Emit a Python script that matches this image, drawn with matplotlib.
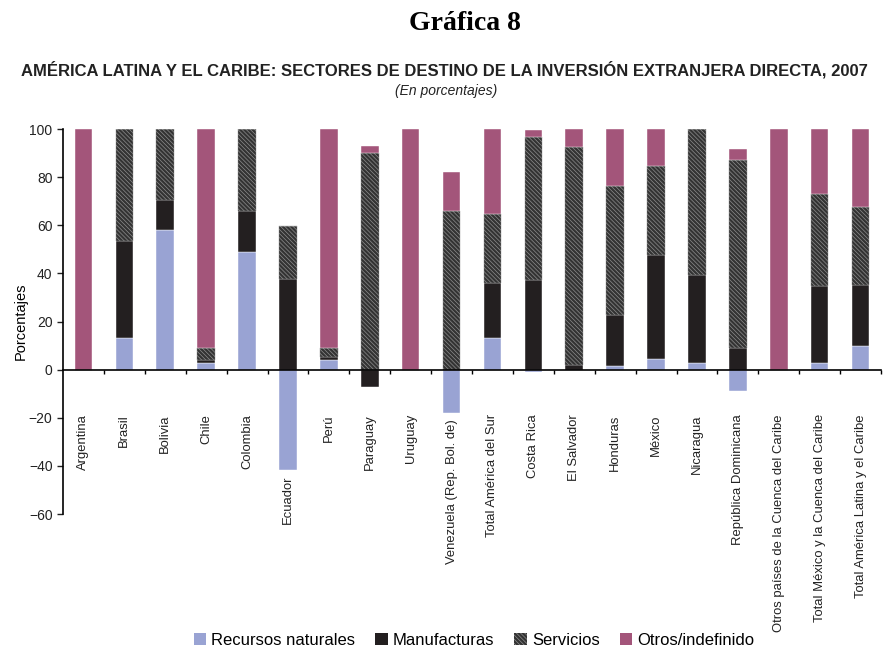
import numpy as np
import matplotlib
matplotlib.use('Agg')
import matplotlib.pyplot as plt
from matplotlib.patches import Patch

# Data (percent)
paises = ['Argentina', 'Brasil', 'Bolivia', 'Chile', 'Colombia', 'Ecuador', 'Perú',
          'Paraguay', 'Uruguay', 'Venezuela (Rep. Bol. de)', 'Total América del Sur',
          'Costa Rica', 'El Salvador', 'Honduras', 'México', 'Nicaragua',
          'República Dominicana', 'Otros países de la Cuenca del Caribe',
          'Total México y la Cuenca del Caribe', 'Total América Latina y el Caribe']
recursos = [0, 13, 58, 2.8, 49, -41.5, 4.2, 0, 0, -18, 13, -1.1, 0, 1.4, 4.6, 2.8, -8.7, 0, 2.8, 9.7]
manufacturas = [0, 40.5, 12.6, 1.4, 17, 37.8, 0.9, -7.2, 0, 0, 23, 37.1, 2.1, 21.2, 42.9, 36.4, 9.0, 0, 31.8, 25.6]
servicios = [0, 46.5, 29.4, 4.8, 34, 21.8, 3.9, 90, 0, 66, 28.8, 59.6, 90.3, 53.6, 37.3, 60.8, 78.3, 0, 38.5, 32.2]
otros = [100, 0, 0, 91, 0, 0, 91, 3.1, 100, 16, 35.2, 2.8, 7.6, 23.8, 15.2, 0, 4.4, 100, 26.9, 32.5]

series = [
    ('Recursos naturales', recursos, dict(color='#99a3d3', edgecolor='white')),
    ('Manufacturas', manufacturas, dict(color='#231f20', edgecolor='white')),
    ('Servicios', servicios, dict(facecolor='#333333', edgecolor='#8e8e8e', hatch='\\\\\\\\\\\\\\\\')),
    ('Otros/indefinido', otros, dict(color='#a3557a', edgecolor='white')),
]

plt.rcParams['font.family'] = ['Liberation Sans', 'DejaVu Sans']
plt.rcParams['hatch.linewidth'] = 0.5

fig = plt.figure(figsize=(8.86, 6.51), dpi=100)
ax = fig.add_axes([0.0711, 0.2104, 0.9233, 0.5914])

x = np.arange(len(paises))
pos_bottom = np.zeros(len(paises))
neg_bottom = np.zeros(len(paises))
handles = []
for name, vals, style in series:
    vals = np.array(vals, dtype=float)
    bottom = np.where(vals >= 0, pos_bottom, neg_bottom)
    ax.bar(x, vals, width=0.43, bottom=bottom, linewidth=0.3, **style)
    pos_bottom += np.clip(vals, 0, None)
    neg_bottom += np.clip(vals, None, 0)
    handles.append(Patch(label=name, linewidth=0, **style))

ax.set_xlim(-0.5, 19.5)
ax.set_ylim(-60, 100)
ax.set_yticks(np.arange(-60, 101, 20))
ax.tick_params(axis='y', labelsize=10, length=4, width=1, colors='#222222')
ax.set_ylabel('Porcentajes', fontsize=10.5, labelpad=1)

for s in ['top', 'right']:
    ax.spines[s].set_visible(False)
ax.spines['bottom'].set_position(('data', 0))
ax.spines['bottom'].set_linewidth(1.2)
ax.spines['left'].set_linewidth(1.2)
ax.set_xticks(np.arange(0.5, 20, 1))
ax.set_xticklabels([])
ax.tick_params(axis='x', length=3, width=1, direction='out')

# category labels below the zero line (or below a negative bar)
for i, name in enumerate(paises):
    y = min(-18.5, neg_bottom[i] - 2.5)
    ax.text(i, y, name, rotation=90, ha='center', va='top', fontsize=9.4, color='#222222')

fig.text(0.525, 0.964, 'Gráfica 8', ha='center', va='center', fontsize=20,
         fontweight='bold', family='Liberation Serif')
fig.text(0.502, 0.893, 'AMÉRICA LATINA Y EL CARIBE: SECTORES DE DESTINO DE LA INVERSIÓN EXTRANJERA DIRECTA, 2007',
         ha='center', va='center', fontsize=12, fontweight='bold', color='#222222')
fig.text(0.504, 0.860, '(En porcentajes)', ha='center', va='center', fontsize=10,
         style='italic', color='#222222')

fig.legend(handles=handles, loc='lower center', bbox_to_anchor=(0.535, -0.018), ncol=4,
           frameon=False, fontsize=12, handlelength=0.75, handleheight=0.75,
           handletextpad=0.3, columnspacing=1.2)

fig.savefig('out.png', dpi=100)
